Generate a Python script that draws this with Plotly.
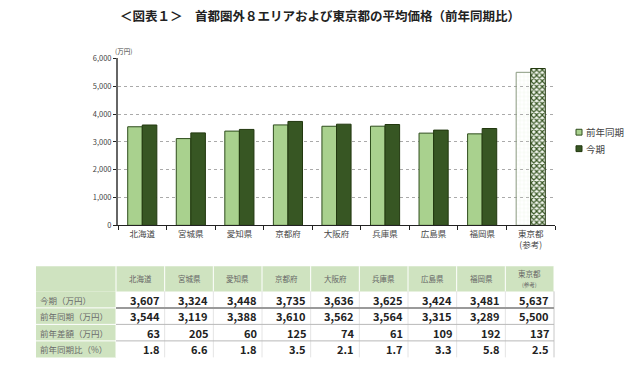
import plotly.graph_objects as go

categories = ["北海道", "宮城県", "愛知県", "京都府", "大阪府", "兵庫県", "広島県", "福岡県", "東京都<br>(参考)"]
prev_year = [3544, 3119, 3388, 3610, 3562, 3564, 3315, 3289, 5500]
this_term = [3607, 3324, 3448, 3735, 3636, 3625, 3424, 3481, 5637]
diff_amount = [63, 205, 60, 125, 74, 61, 109, 192, 137]
yoy_pct = [1.8, 6.6, 1.8, 3.5, 2.1, 1.7, 3.3, 5.8, 2.5]
y_ticks = [0, 1000, 2000, 3000, 4000, 5000, 6000]
row_labels = ["今期（万円）", "前年同期（万円）", "前年差額（万円）", "前年同期比（%）"]
header_labels = ["北海道", "宮城県", "愛知県", "京都府", "大阪府", "兵庫県", "広島県", "福岡県", "東京都"]
header_note = [None] * 8 + ["(参考)"]
series_names = ["前年同期", "今期"]

W, H = 640, 375
FONT = "Noto Sans CJK JP"
LIGHT = "#a9d18e"
DARK = "#375623"
HEADER_BG = "#cfe3c0"

n = len(categories)
last = n - 1

fig = go.Figure()
fig.add_trace(go.Bar(
    name=series_names[0], x=categories, y=prev_year, showlegend=False,
    marker=dict(
        color=[LIGHT] * last + ["#dcead2"],
        line=dict(color=["#2e4d1c"] * last + ["#8a9a80"], width=1),
        pattern=dict(shape=[""] * last + ["+"], bgcolor=[LIGHT] * last + ["#f4f9f0"],
                     size=4, solidity=0.12, fillmode="replace"),
    ),
))
fig.add_trace(go.Bar(
    name=series_names[1], x=categories, y=this_term, showlegend=False,
    marker=dict(
        color=DARK,
        line=dict(color="#22380f", width=1),
        pattern=dict(shape=[""] * last + ["x"], bgcolor=[DARK] * last + ["#f4f8f0"],
                     size=4, solidity=0.5, fillmode="replace"),
    ),
))

x0, x1 = 118 / W, 555 / W
fig.update_layout(
    width=W, height=H,
    margin=dict(l=0, r=0, t=0, b=0),
    paper_bgcolor="white", plot_bgcolor="white",
    font=dict(family=FONT, color="#444"),
    barmode="group", bargap=0.40, bargroupgap=0.0,
    title=dict(text="<b>＜図表１＞　首都圏外８エリアおよび東京都の平均価格（前年同期比）</b>",
               x=0.5, xanchor="center", y=1 - 17 / H, yanchor="middle",
               font=dict(size=12.5, color="#222", family=FONT)),
    xaxis=dict(domain=[x0, x1], type="category", showline=True, linecolor="#222", linewidth=1,
               ticks="outside", tickson="boundaries", ticklen=4, tickcolor="#222",
               tickfont=dict(size=8.5, color="#444", family=FONT), showgrid=False),
    yaxis=dict(domain=[1 - 226 / H, 1 - 54 / H], range=[0, 6000], tickvals=y_ticks,
               tickformat=",", showline=True, linecolor="#666", linewidth=2,
               ticks="outside", ticklen=3, tickcolor="#222",
               tickfont=dict(size=7.5, color="#444", family=FONT),
               showgrid=True, gridcolor="#aaaaaa", griddash="dot", gridwidth=1, zeroline=False),
    showlegend=False,
)

fig.add_annotation(text="(万円)", x=113 / W, y=1 - 46 / H, xref="paper", yref="paper",
                   xanchor="left", yanchor="middle", showarrow=False,
                   font=dict(size=6.5, color="#444", family=FONT))


def px(x):
    return x / W


def py(y):
    return 1 - y / H


# Legend (drawn manually to match the small square markers)
legend_fill = [LIGHT, DARK]
legend_line = ["#2e4d1c", "#22380f"]
for k, name in enumerate(series_names):
    cy = 130 + k * 17
    fig.add_shape(type="rect", xref="paper", yref="paper",
                  x0=px(576), x1=px(582), y0=py(cy + 3), y1=py(cy - 3),
                  fillcolor=legend_fill[k], line=dict(color=legend_line[k], width=1))
    fig.add_annotation(text=name, x=px(584), y=py(cy), xref="paper", yref="paper",
                       xanchor="left", yanchor="middle", showarrow=False,
                       font=dict(size=9.5, color="#444", family=FONT))

# Table drawn with shapes and annotations
T_LEFT, T_FIRST, T_RIGHT = 36, 116, 554
T_TOP, H_BOTTOM, ROW_H = 268, 294, 17
col_w = (T_RIGHT - T_FIRST) / n
n_rows = len(row_labels)
T_BOTTOM = H_BOTTOM + ROW_H * n_rows

fig.add_shape(type="rect", xref="paper", yref="paper", x0=px(T_LEFT), x1=px(T_RIGHT),
              y0=py(H_BOTTOM), y1=py(T_TOP), fillcolor=HEADER_BG, line=dict(width=0), layer="below")
fig.add_shape(type="rect", xref="paper", yref="paper", x0=px(T_LEFT), x1=px(T_FIRST),
              y0=py(T_BOTTOM), y1=py(H_BOTTOM), fillcolor=HEADER_BG, line=dict(width=0), layer="below")

for i in range(n + 1):
    xv = T_FIRST + i * col_w
    fig.add_shape(type="line", xref="paper", yref="paper", x0=px(xv), x1=px(xv),
                  y0=py(H_BOTTOM), y1=py(T_TOP), line=dict(color="#ffffff", width=1))
    fig.add_shape(type="line", xref="paper", yref="paper", x0=px(xv), x1=px(xv),
                  y0=py(T_BOTTOM), y1=py(H_BOTTOM),
                  line=dict(color="#ffffff" if i == 0 else ("#c8c8c8" if i == n else "#e4e4e4"), width=1))

for r in range(1, n_rows):
    yh = H_BOTTOM + r * ROW_H
    fig.add_shape(type="line", xref="paper", yref="paper", x0=px(T_LEFT), x1=px(T_FIRST),
                  y0=py(yh), y1=py(yh), line=dict(color="#ffffff", width=1))
    fig.add_shape(type="line", xref="paper", yref="paper", x0=px(T_FIRST), x1=px(T_RIGHT),
                  y0=py(yh), y1=py(yh), line=dict(color="#9a9a9a" if r == 1 else "#b8b8b8",
                                                  width=2 if r == 1 else 1))

for i in range(n):
    cx = T_FIRST + (i + 0.5) * col_w
    if header_note[i]:
        fig.add_annotation(text=header_labels[i], x=px(cx), y=py(T_TOP + 8), xref="paper", yref="paper",
                           xanchor="center", yanchor="middle", showarrow=False,
                           font=dict(size=7.5, color="#666", family=FONT))
        fig.add_annotation(text=header_note[i], x=px(cx), y=py(T_TOP + 19), xref="paper", yref="paper",
                           xanchor="center", yanchor="middle", showarrow=False,
                           font=dict(size=5.5, color="#666", family=FONT))
    else:
        fig.add_annotation(text=header_labels[i], x=px(cx), y=py((T_TOP + H_BOTTOM) / 2), xref="paper",
                           yref="paper", xanchor="center", yanchor="middle", showarrow=False,
                           font=dict(size=7.5, color="#666", family=FONT))

rows = [
    [f"{v:,}" for v in this_term],
    [f"{v:,}" for v in prev_year],
    [f"{v:,}" for v in diff_amount],
    [f"{v:.1f}" for v in yoy_pct],
]
for r in range(n_rows):
    cy = H_BOTTOM + (r + 0.5) * ROW_H
    fig.add_annotation(text=row_labels[r], x=px(T_LEFT + 2), y=py(cy), xref="paper", yref="paper",
                       xanchor="left", yanchor="middle", showarrow=False,
                       font=dict(size=8.5, color="#6a6a6a", family=FONT))
    for i in range(n):
        xr = T_FIRST + (i + 1) * col_w - 3
        fig.add_annotation(text=f"<b>{rows[r][i]}</b>", x=px(xr), y=py(cy), xref="paper", yref="paper",
                           xanchor="right", yanchor="middle", showarrow=False,
                           font=dict(size=11, color="#222", family=FONT))

fig.write_html("out.html", config={"displayModeBar": False},
               post_script="document.body.style.margin='0';")
